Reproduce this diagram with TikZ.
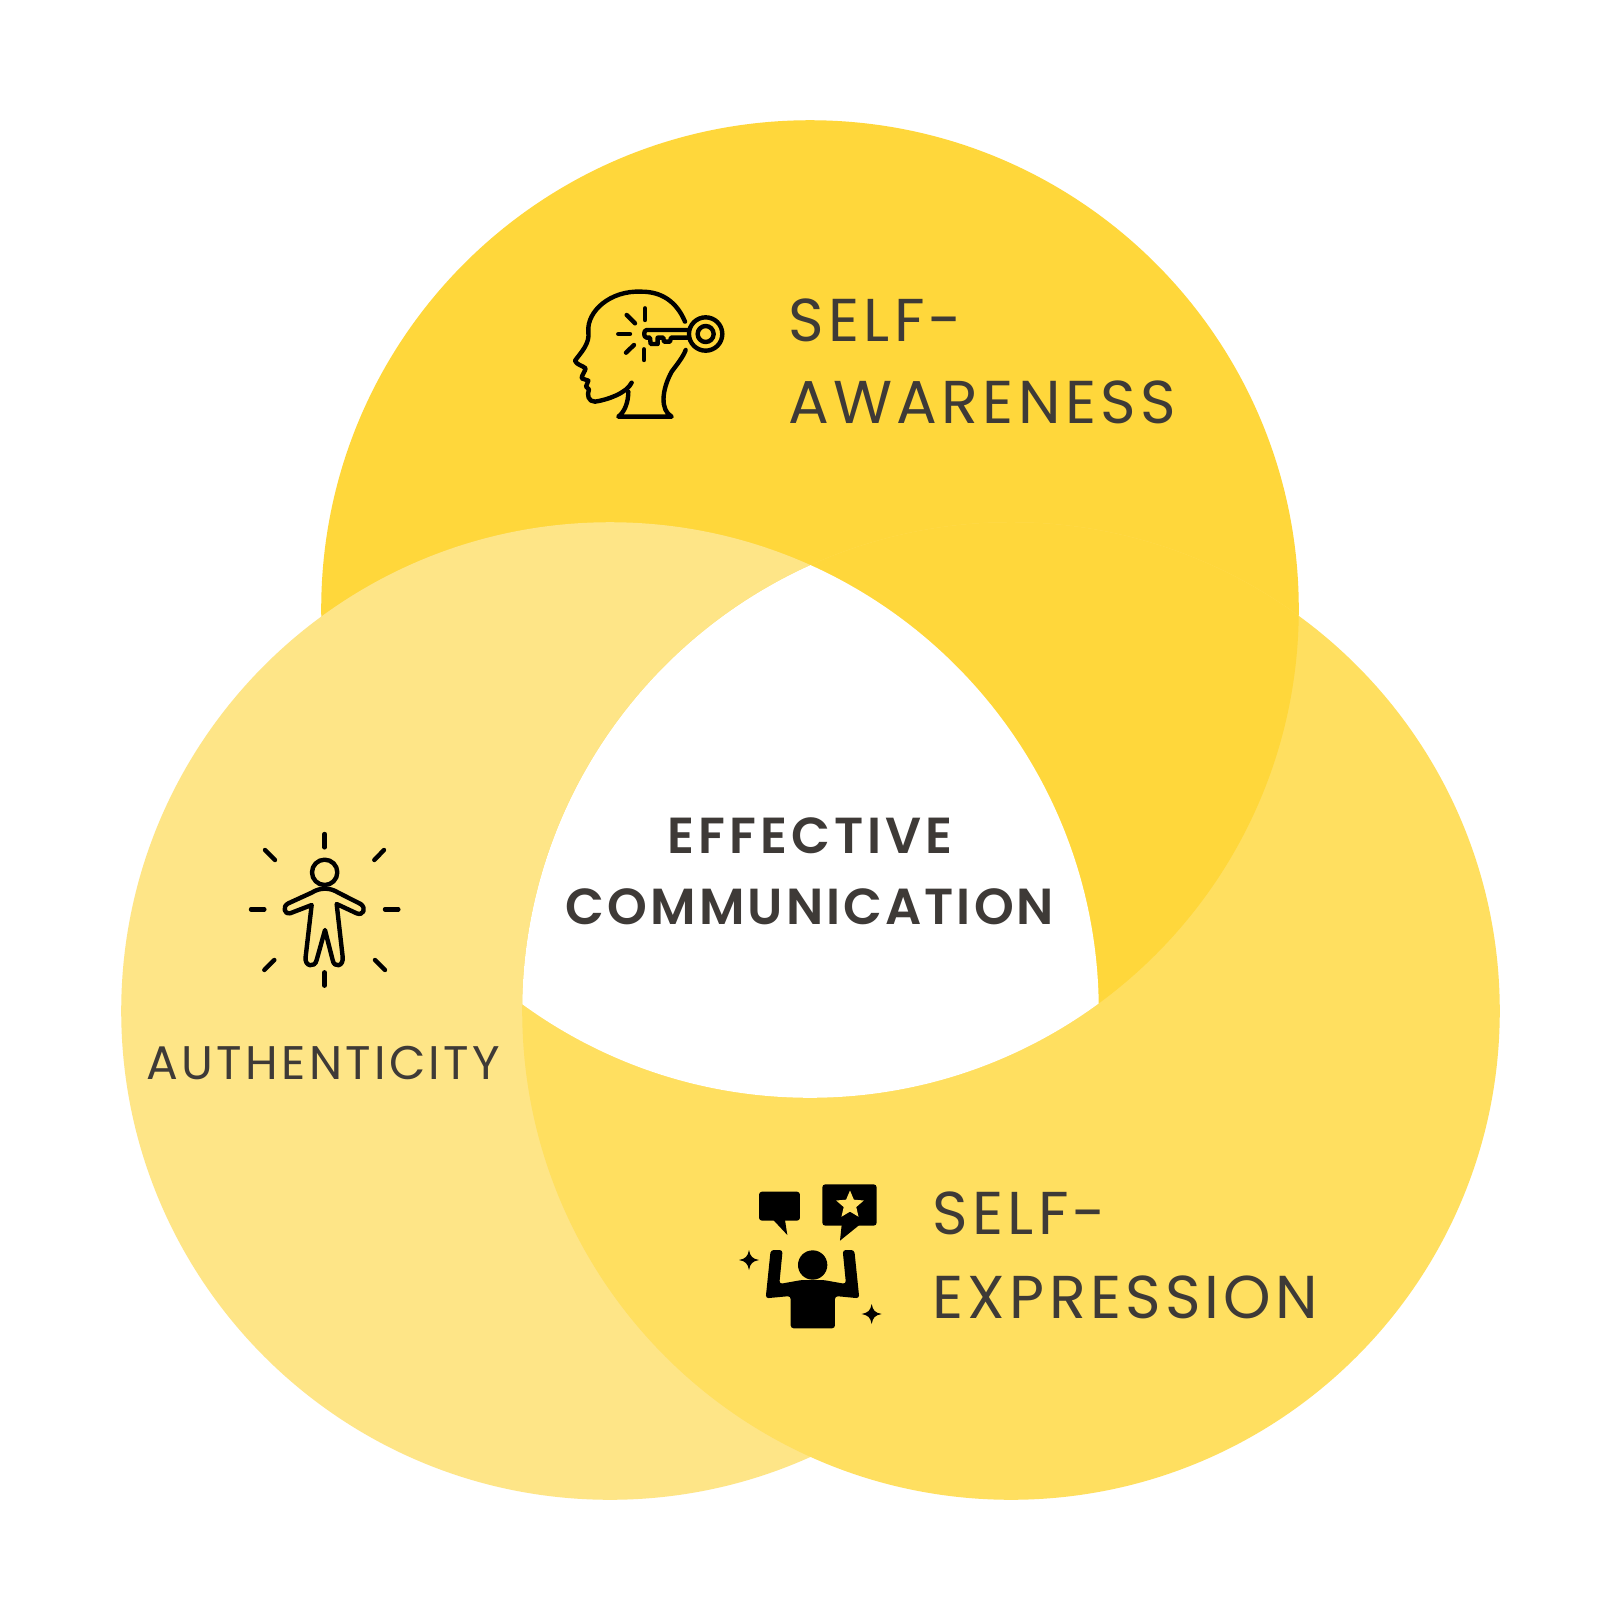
\documentclass[tikz,border=0pt]{standalone}
\usepackage{fontspec}
\usepackage{xcolor}
\usetikzlibrary{shapes.geometric}
\setmainfont{Poppins}
\newfontfamily\labelfont[LetterSpace=7]{Poppins}
\newfontfamily\titlefont[UprightFont={* SemiBold},LetterSpace=6]{Poppins}
\definecolor{topyellow}{HTML}{FFD73B}
\definecolor{leftyellow}{HTML}{FEE587}
\definecolor{rightyellow}{HTML}{FFDF60}
\definecolor{textgrey}{HTML}{3E3A37}
\begin{document}
\begin{tikzpicture}[
    x=0.01cm, y=-0.01cm,
    outline/.style={draw=black, line width=1.25pt, line cap=round, line join=round},
    solid/.style={fill=black, rounded corners=0.03cm},
    label/.style={anchor=base west, inner sep=0pt, text=textgrey, font=\labelfont\fontsize{17.2}{17.2}\selectfont},
    title/.style={anchor=base, inner sep=0pt, text=textgrey, font=\titlefont\fontsize{14.4}{14.4}\selectfont},
    sparkle/.pic={\fill[black] (0,-30) .. controls (4,-10) and (10,-4) .. (30,0) .. controls (10,4) and (4,10) .. (0,30) .. controls (-4,10) and (-10,4) .. (-30,0) .. controls (-10,-4) and (-4,-10) .. (0,-30) -- cycle;}
]
    \useasboundingbox[fill=white] (0,0) rectangle (1620,1620);

    % Circles
    \fill[topyellow] (810,609) circle [radius=4.885cm];
    \fill[leftyellow] (610,1011) circle [radius=4.885cm];
    \fill[rightyellow] (1011,1011) circle [radius=4.885cm];

    % Overlaps
    \begin{scope}
        \clip (810,609) circle [radius=4.885cm];
        \fill[topyellow] (1011,1011) circle [radius=4.885cm];
        \clip (610,1011) circle [radius=4.885cm];
        \fill[white] (1011,1011) circle [radius=4.885cm];
    \end{scope}

    % Labels
    \node[label] (awareA) at (788,341) {SELF-};
    \node[label] (awareB) at (788,423) {AWARENESS};
    \node[label] (authentic) at (146,1079) {\fontsize{13.4}{14}\selectfont AUTHENTICITY};
    \node[label] (expressA) at (932,1234) {SELF-};
    \node[label] (expressB) at (932,1318) {EXPRESSION};
    \node[title] (effective) at (810,853) {\addfontfeature{LetterSpace=8}EFFECTIVE};
    \node[title] (communication) at (810,924) {COMMUNICATION};

    % Head with key
    \begin{scope}[shift={(560,270)}, scale=0.3333]
        \draw[outline] (375,155) .. controls (350,95) and (305,65) .. (245,65) .. controls (150,60) and (80,125) .. (85,185) .. controls (90,220) and (65,245) .. (45,272) .. controls (50,285) and (65,285) .. (77,295) .. controls (75,305) and (65,315) .. (65,325) -- (85,332) -- (78,350) -- (87,358) .. controls (80,375) and (85,395) .. (105,395) .. controls (140,390) and (200,370) .. (215,338);
        \draw[outline] (205,365) .. controls (205,395) and (195,425) .. (175,440) -- (335,440) .. controls (300,420) and (305,360) .. (335,305) .. controls (350,285) and (370,260) .. (377,240);
        \draw[outline] (437,192) circle [radius=0.5cm];
        \draw[outline] (437,192) circle [radius=0.24cm];
        \draw[outline] (387,180) -- (260,180) .. controls (250,180) and (250,203) .. (260,203) -- (270,203) -- (272,222) -- (293,222) -- (293,203) -- (310,203) -- (312,215) -- (330,215) -- (333,203) -- (387,203);
        \foreach \ax/\ay/\bx/\by in {255/115/255/150, 200/135/225/160, 175/192/210/192, 198/248/222/225, 252/238/252/270}
            \draw[outline] (\ax,\ay) -- (\bx,\by);
    \end{scope}

    % Person with rays
    \begin{scope}[shift={(240,820)}, scale=0.3333]
        \draw[outline] (254,157) circle [radius=0.38cm];
        \draw[outline] (215,255) -- (150,280) .. controls (135,285) and (125,260) .. (145,250) -- (215,218) .. controls (240,202) and (270,202) .. (295,218) -- (362,252) .. controls (380,265) and (370,288) .. (350,280) -- (290,252) -- (308,410) .. controls (312,440) and (282,445) .. (278,420) -- (255,330) -- (230,420) .. controls (225,445) and (192,440) .. (197,410) -- cycle;
        \foreach \ax/\ay/\bx/\by in {254/42/254/82, 75/90/105/120, 432/90/403/120, 33/268/73/268, 435/268/475/268, 73/450/103/420, 405/420/435/450, 254/457/254/497}
            \draw[outline] (\ax,\ay) -- (\bx,\by);
    \end{scope}

    % Person with speech bubbles
    \begin{scope}[shift={(730,1170)}, scale=0.3333]
        \fill[solid] (87,65) -- (210,65) -- (210,152) -- (87,152) -- cycle;
        \fill[black] (130,150) -- (172,195) -- (165,150) -- cycle;
        \fill[solid] (277,43) -- (440,43) -- (440,167) -- (277,167) -- cycle;
        \fill[black] (335,165) -- (330,212) -- (388,165) -- cycle;
        \node[star, star points=5, star point ratio=2.2, fill=rightyellow, inner sep=0pt, minimum size=0.29cm] (staricon) at (360,105) {};
        \fill[black] (248,285) circle [radius=0.44cm];
        \fill[solid] (122,240) -- (158,240) -- (148,342) -- (215,330) -- (280,330) -- (348,342) -- (338,240) -- (373,240) -- (388,385) -- (315,378) -- (315,475) -- (182,475) -- (182,378) -- (107,385) -- cycle;
        \pic[transform shape] at (57,270) {sparkle};
        \pic[transform shape] at (425,432) {sparkle};
    \end{scope}
\end{tikzpicture}
\end{document}
